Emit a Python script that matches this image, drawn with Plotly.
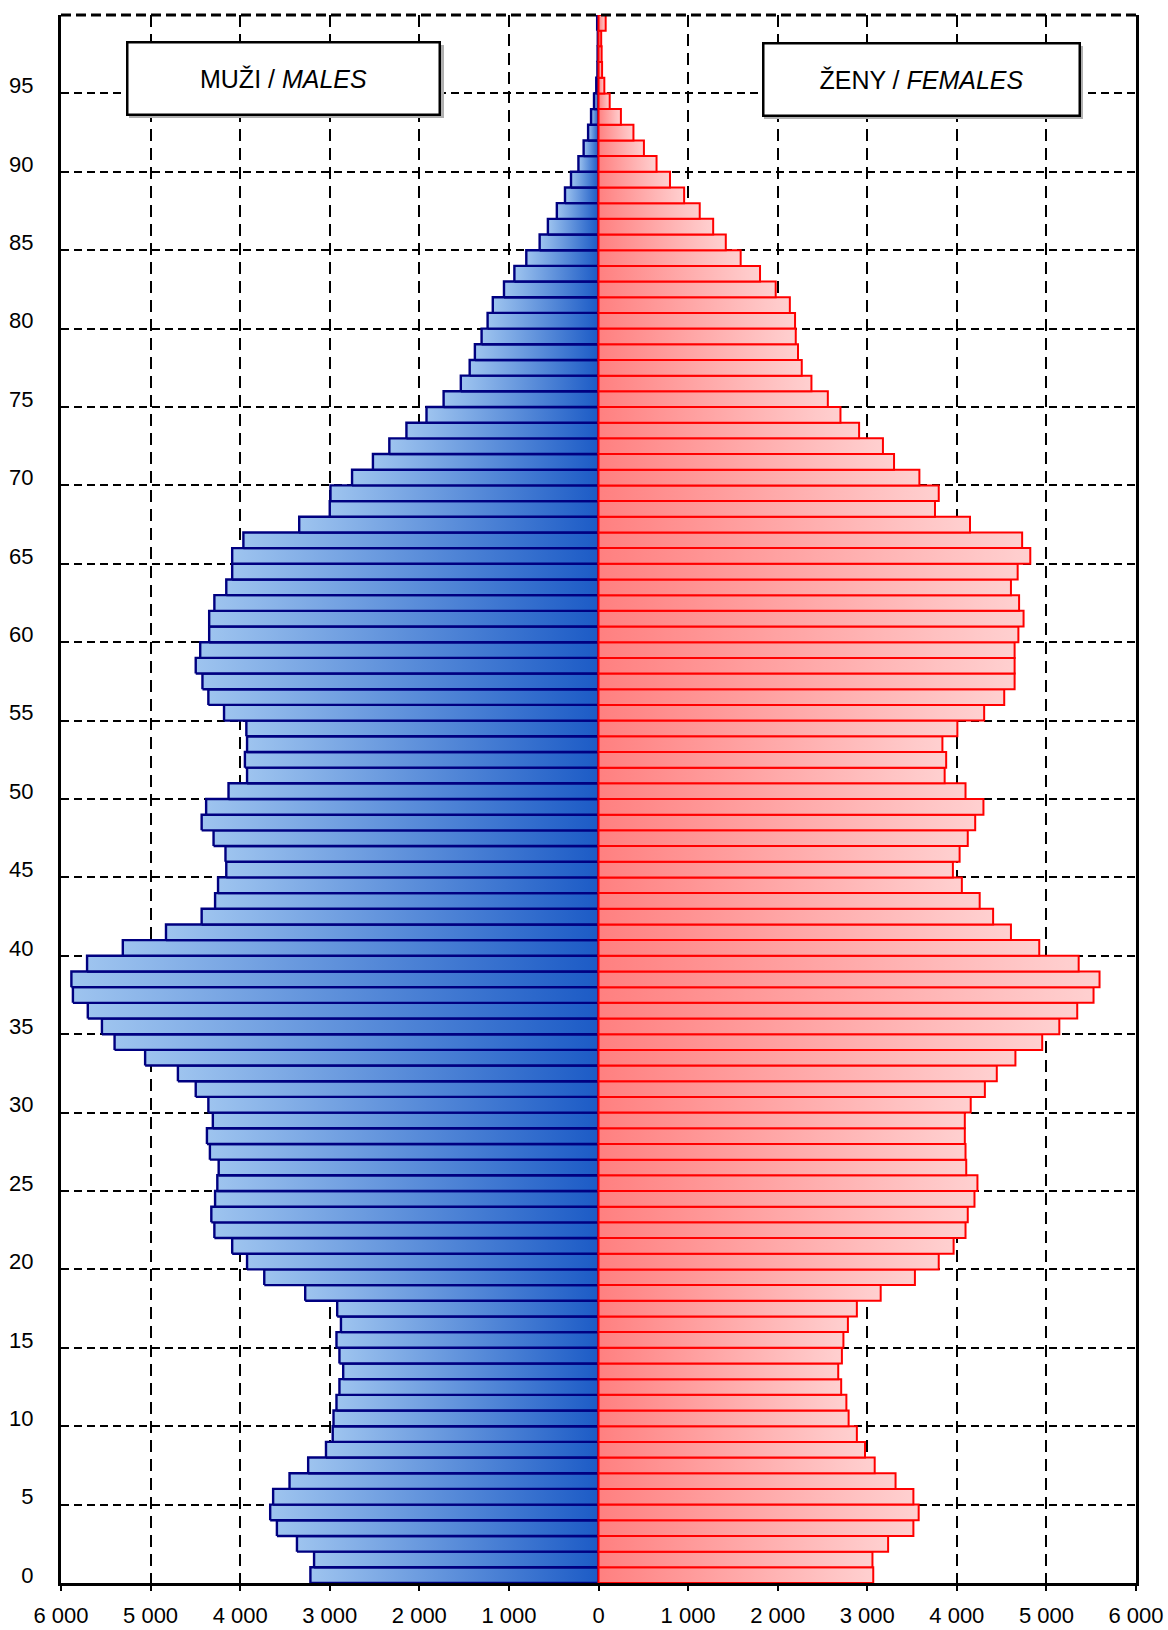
import plotly.graph_objects as go

ages = list(range(100))

males = [
    3216, 3175, 3366, 3590, 3665, 3632, 3449, 3241, 3042, 2967,
    2958, 2925, 2892, 2850, 2892, 2925, 2875, 2917, 3274, 3731,
    3923, 4089, 4288, 4322, 4280, 4255, 4240, 4338, 4371, 4305,
    4355, 4496, 4695, 5061, 5402, 5543, 5701, 5867, 5884, 5709,
    5310, 4828, 4430, 4280, 4247, 4155, 4164, 4297, 4430, 4380,
    4130, 3923, 3947, 3923, 3931, 4180, 4355, 4421, 4496, 4446,
    4346, 4346, 4288, 4155, 4089, 4089, 3964, 3341, 3000, 2992,
    2751, 2518, 2335, 2144, 1920, 1729, 1537, 1438, 1380, 1305,
    1238, 1180, 1055, 939, 806, 657, 565, 465, 374, 307,
    224, 166, 116, 83, 50, 25, 12, 10, 8, 15,
]

females = [
    3067, 3058, 3233, 3515, 3574, 3515, 3316, 3083, 2975, 2884,
    2792, 2767, 2709, 2676, 2717, 2734, 2784, 2884, 3150, 3532,
    3798, 3964, 4097, 4122, 4197, 4230, 4105, 4097, 4089, 4089,
    4155, 4313, 4446, 4654, 4953, 5144, 5344, 5526, 5593, 5360,
    4920, 4604, 4405, 4255, 4056, 3956, 4031, 4122, 4205, 4297,
    4097, 3864, 3881, 3839, 4006, 4305, 4529, 4645, 4645, 4645,
    4687, 4745, 4695, 4604, 4679, 4820, 4729, 4147, 3756, 3798,
    3582, 3299, 3175, 2909, 2701, 2560, 2377, 2269, 2227, 2202,
    2194, 2136, 1978, 1803, 1587, 1421, 1280, 1130, 956, 798,
    648, 507, 390, 250, 125, 65, 40, 35, 30, 80,
]

x_tickvals = list(range(-6000, 6001, 1000))
x_ticktext = ["6 000", "5 000", "4 000", "3 000", "2 000", "1 000", "0",
              "1 000", "2 000", "3 000", "4 000", "5 000", "6 000"]
y_tickvals = list(range(0, 100, 5))

label_m = "MUŽI / <i>MALES</i>"
label_f = "ŽENY / <i>FEMALES</i>"

FONT = "Liberation Sans, Arial, sans-serif"

fig = go.Figure()

for a, m in zip(ages, males):
    fig.add_trace(go.Scatter(
        x=[-m, 0, 0, -m, -m],
        y=[a - 0.5, a - 0.5, a + 0.5, a + 0.5, a - 0.5],
        mode="lines", fill="toself",
        line=dict(color="#000080", width=2.4),
        fillcolor="#5A8EDC",
        fillgradient=dict(type="horizontal",
                          colorscale=[[0, "#9EC4EF"], [1, "#1C5BC6"]]),
        showlegend=False, hoverinfo="skip",
    ))

for a, f in zip(ages, females):
    fig.add_trace(go.Scatter(
        x=[0, f, f, 0, 0],
        y=[a - 0.5, a - 0.5, a + 0.5, a + 0.5, a - 0.5],
        mode="lines", fill="toself",
        line=dict(color="#FF0000", width=2),
        fillcolor="#FFAAAA",
        fillgradient=dict(type="horizontal",
                          colorscale=[[0, "#FF8080"], [1, "#FFD0D0"]]),
        showlegend=False, hoverinfo="skip",
    ))

fig.update_layout(
    width=1168, height=1630,
    margin=dict(l=61, r=32, t=15, b=47, autoexpand=False),
    paper_bgcolor="white", plot_bgcolor="white",
    font=dict(family=FONT, size=22, color="black"),
    showlegend=False,
    xaxis=dict(
        range=[-6000, 6000], tickmode="array", tickvals=x_tickvals, ticktext=x_ticktext,
        showgrid=True, gridcolor="black", gridwidth=2, griddash="12px,7px",
        zeroline=False, showline=True, linecolor="black", linewidth=3,
        ticks="outside", ticklen=5, tickwidth=2, tickcolor="black",
        ticklabelstandoff=6, automargin=False,
        tickfont=dict(family=FONT, size=22),
    ),
    yaxis=dict(
        range=[-0.5, 99.5], tickmode="array", tickvals=y_tickvals,
        showgrid=False, zeroline=False,
        showline=True, linecolor="black", linewidth=3, mirror=True,
        ticks="", ticklabelstandoff=20, automargin=False,
        tickfont=dict(family=FONT, size=22),
        minor=dict(tickmode="linear", tick0=4.5, dtick=5, showgrid=True,
                   gridcolor="black", gridwidth=2, griddash="8px,5px", ticks=""),
    ),
    shapes=[
        dict(type="line", xref="paper", yref="paper", x0=0, x1=1, y0=1, y1=1,
             line=dict(color="black", width=3, dash="10px,5px"), layer="above"),
        # soft shadows behind the two label boxes
        dict(type="rect", xref="paper", yref="paper",
             x0=(129 - 61) / 1075, x1=(444 - 61) / 1075,
             y0=1 - (118 - 15) / 1568, y1=1 - (45 - 15) / 1568,
             line=dict(width=0), fillcolor="#B0B0B0", layer="above"),
        dict(type="rect", xref="paper", yref="paper",
             x0=(764 - 61) / 1075, x1=(1083 - 61) / 1075,
             y0=1 - (119 - 15) / 1568, y1=1 - (46 - 15) / 1568,
             line=dict(width=0), fillcolor="#B0B0B0", layer="above"),
    ],
    annotations=[
        dict(xref="paper", yref="paper", x=0.2074, y=0.9592, text=label_m,
             showarrow=False, width=310, height=70, bgcolor="white",
             bordercolor="black", borderwidth=2.5, borderpad=0,
             font=dict(family=FONT, size=25, color="black"),
             xanchor="center", yanchor="middle"),
        dict(xref="paper", yref="paper", x=0.8, y=0.9586, text=label_f,
             showarrow=False, width=314, height=70, bgcolor="white",
             bordercolor="black", borderwidth=2.5, borderpad=0,
             font=dict(family=FONT, size=25, color="black"),
             xanchor="center", yanchor="middle"),
    ],
)

fig.write_html("out.html", config={"displayModeBar": False},
               post_script="document.body.style.margin='0';document.body.style.padding='0';")
